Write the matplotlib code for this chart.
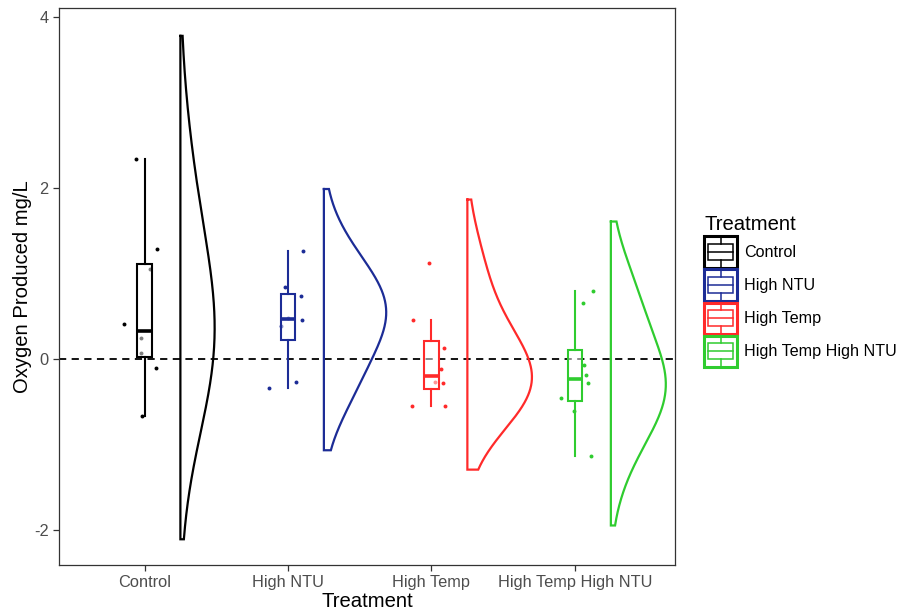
import matplotlib.pyplot as plt
import numpy as np
from matplotlib.patches import Rectangle
from matplotlib.lines import Line2D
from matplotlib.legend_handler import HandlerBase

plt.rcParams['font.family'] = ['Liberation Sans', 'DejaVu Sans']
plt.rcParams['axes.unicode_minus'] = False

treatments = ["Control", "High NTU", "High Temp", "High Temp High NTU"]
colors = ["#000000", "#1c2c96", "#ff2a2a", "#2fcc2f"]

# oxygen produced (mg/L) per replicate
control = [2.34, 1.29, 1.05, 0.41, 0.24, 0.07, -0.10, -0.67]
high_ntu = [1.26, 0.84, 0.74, 0.46, 0.38, -0.27, -0.34, 0.48]
high_temp = [1.12, 0.46, 0.13, -0.12, -0.28, -0.27, -0.55, -0.55]
high_temp_ntu = [0.80, 0.65, -0.07, -0.19, -0.28, -0.46, -0.61, -1.14]

# horizontal jitter of the raw points
control_jit = [-0.061, 0.085, 0.038, -0.143, -0.026, -0.026, 0.078, -0.017]
high_ntu_jit = [0.102, -0.023, 0.091, 0.095, -0.051, 0.058, -0.130, 0.0]
high_temp_jit = [-0.017, -0.127, 0.087, 0.066, 0.082, 0.026, -0.138, 0.094]
high_temp_ntu_jit = [0.123, 0.056, 0.063, 0.079, 0.088, -0.095, -0.007, 0.109]

groups = [control, high_ntu, high_temp, high_temp_ntu]
jits = [control_jit, high_ntu_jit, high_temp_jit, high_temp_ntu_jit]


def bw_nrd0(v):
    q1, q3 = np.percentile(v, [25, 75])
    lo = min(np.std(v, ddof=1), (q3 - q1) / 1.34)
    return 0.9 * lo * len(v) ** -0.2


def kde(v, adjust=2.0, cut=1.5):
    # smoothed density, range = data +/- cut * bandwidth
    v = np.asarray(v)
    bw = bw_nrd0(v) * adjust
    ys = np.linspace(v.min() - cut * bw, v.max() + cut * bw, 512)
    d = np.exp(-0.5 * ((ys[:, None] - v[None, :]) / bw) ** 2).sum(1)
    d = d / (len(v) * bw * np.sqrt(2 * np.pi))
    return ys, d


class BoxKey(HandlerBase):
    def create_artists(self, legend, orig, xd, yd, w, h, fontsize, trans):
        c = orig.get_color()
        x0, y0 = -xd, -yd
        cx = x0 + w / 2
        arts = [
            Rectangle((x0, y0), w, h, fill=False, edgecolor=c, lw=2.2, transform=trans),
            Rectangle((x0 + 0.12 * w, y0 + 0.25 * h), 0.76 * w, 0.5 * h, fill=False,
                      edgecolor=c, lw=1.1, transform=trans),
            Line2D([x0 + 0.12 * w, x0 + 0.88 * w], [y0 + 0.5 * h] * 2, color=c, lw=1.1, transform=trans),
            Line2D([cx, cx], [y0 + 0.75 * h, y0 + h], color=c, lw=1.1, transform=trans),
            Line2D([cx, cx], [y0, y0 + 0.25 * h], color=c, lw=1.1, transform=trans),
        ]
        return arts


fig = plt.figure(figsize=(9.03, 6.14), dpi=100)
ax = fig.add_axes([59 / 903, 1 - 565 / 614, 616 / 903, 557 / 614])

dens = [kde(g) for g in groups]
dmax = max(d.max() for _, d in dens)

ax.axhline(0, color="black", lw=1.3, ls=(0, (4, 3)), zorder=1)

for i, (g, jt, c) in enumerate(zip(groups, jits, colors)):
    pos = i + 1
    ys, d = dens[i]
    base = pos + 0.25
    w = d / dmax * 0.45
    xs = np.concatenate([[base, base], base + w, [base]])
    yy = np.concatenate([[ys[-1], ys[0]], ys, [ys[-1]]])
    ax.plot(xs, yy, color=c, lw=1.6, zorder=3, solid_joinstyle="miter")
    ax.scatter(pos + np.array(jt), g, s=8, color=c, zorder=2, linewidths=0)
    bp = ax.boxplot([g], positions=[pos], widths=0.1, whis=1.5, showfliers=False,
                    showcaps=False, patch_artist=True, manage_ticks=False)
    for b in bp["boxes"]:
        b.set_facecolor((1, 1, 1, 0.5))
        b.set_edgecolor(c)
        b.set_linewidth(1.5)
        b.set_zorder(4)
    for wl in bp["whiskers"]:
        wl.set_color(c)
        wl.set_linewidth(1.5)
        wl.set_zorder(4)
    for m in bp["medians"]:
        m.set_color(c)
        m.set_linewidth(2.6)
        m.set_zorder(5)

ax.set_xlim(0.404, 4.697)
ax.set_ylim(-2.41, 4.105)
ax.set_xticks(range(1, 5))
ax.set_xticklabels(treatments)
ax.set_yticks([-2, 0, 2, 4])
ax.tick_params(colors="#333333", labelcolor="#4d4d4d", labelsize=11.8, length=4, width=0.9)
for s in ax.spines.values():
    s.set_color("#333333")
    s.set_linewidth(0.9)
ax.set_xlabel("Treatment", fontsize=14.6, labelpad=1)
ax.set_ylabel("Oxygen Produced mg/L", fontsize=14.6, labelpad=1)

handles = [Line2D([], [], color=c) for c in colors]
leg = fig.legend(handles, treatments, title="Treatment", loc="upper left",
                 bbox_to_anchor=(698 / 903, 1 - 209 / 614), frameon=False,
                 handler_map={Line2D: BoxKey()}, fontsize=11.6, title_fontsize=14.6,
                 handlelength=2.0, handleheight=2.6, labelspacing=0.12, handletextpad=0.45,
                 borderaxespad=0, alignment="left")

fig.savefig("out.png", dpi=100)
